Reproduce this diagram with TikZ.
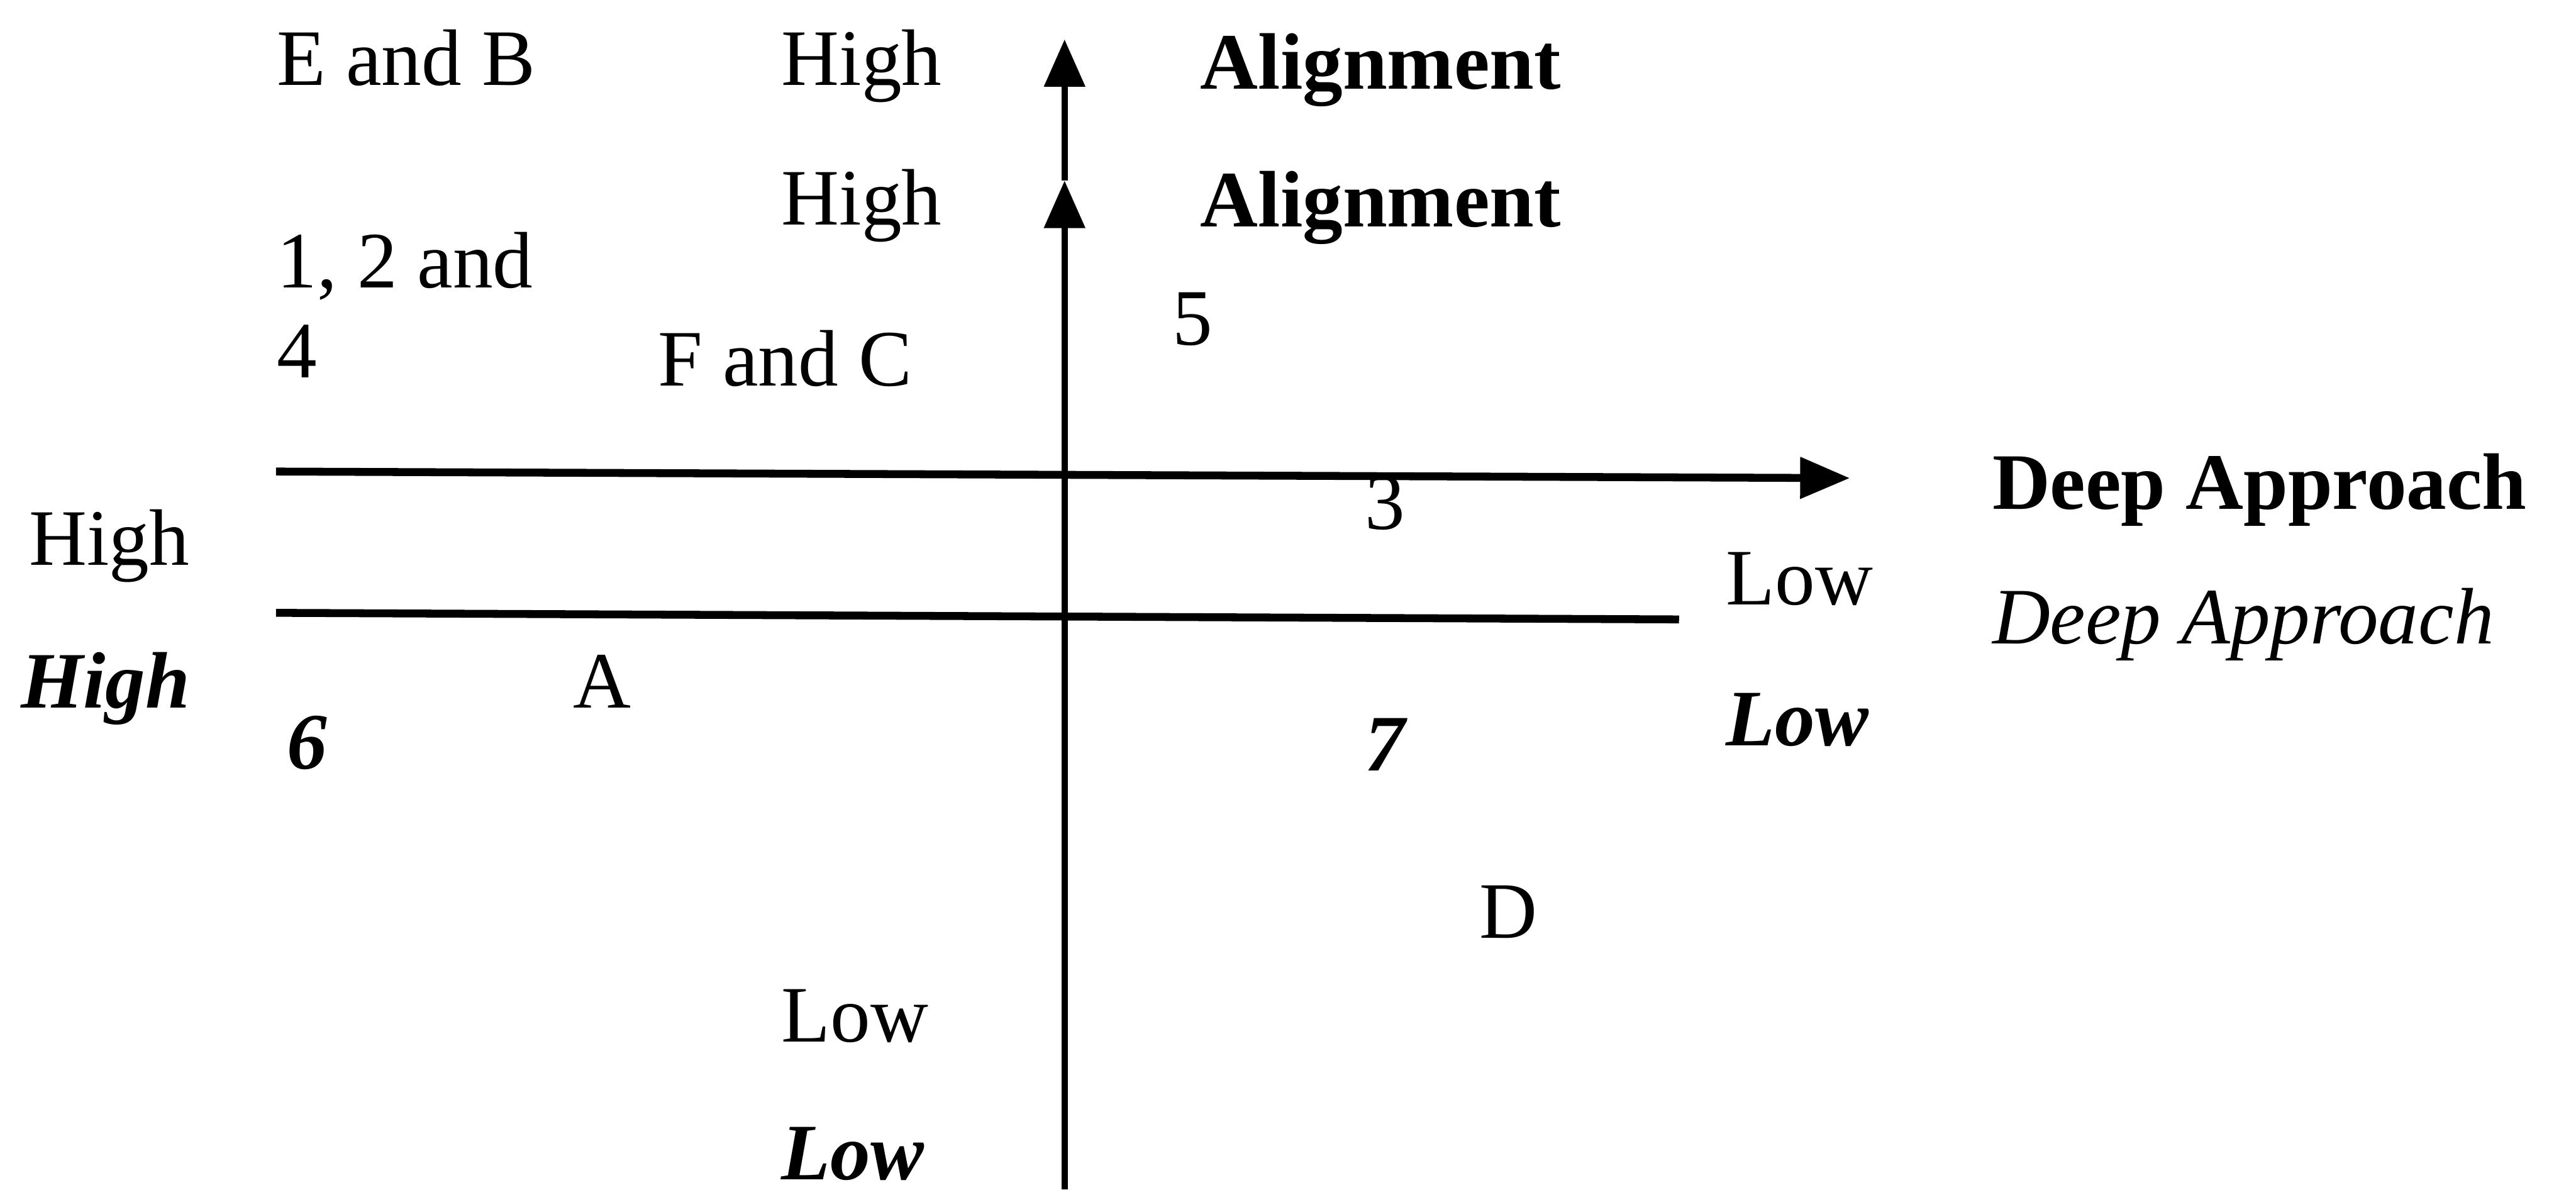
\documentclass[tikz,border=0pt]{standalone}
\usepackage{fontspec}
\setmainfont{Liberation Serif}
\usetikzlibrary{arrows.meta}
\begin{document}
\begin{tikzpicture}[x=0.2709pt,y=-0.2709pt,
  lbl/.style={anchor=base west, inner sep=0pt, font=\fontsize{13.2}{15}\selectfont},
  lblb/.style={lbl, font=\fontsize{13.2}{15}\selectfont\bfseries},
  lbli/.style={lbl, font=\fontsize{13.2}{15}\selectfont\itshape},
  lblbi/.style={lbl, font=\fontsize{13.2}{15}\selectfont\bfseries\itshape},
  axis/.style={line width=1pt},
  haxis/.style={line width=1.3pt},
  vtip/.style={-{Triangle[length=7.8pt,width=6.6pt]}},
  htip/.style={-{Triangle[length=8.2pt,width=6.6pt]}}]
\useasboundingbox (0,0) rectangle (1568,724);
% axes
\coordinate (vbot) at (648,724);
\coordinate (vmid) at (648,110);
\coordinate (vtop) at (648,24);
\coordinate (h1l) at (168,287);
\coordinate (h1r) at (1126,291);
\coordinate (h2l) at (168,373);
\coordinate (h2r) at (1022,377);
\draw[axis,vtip] (vbot) -- (vmid);
\draw[axis,vtip] (vmid) -- (vtop);
\draw[haxis,htip] (h1l) -- (h1r);
\draw[haxis] (h2l) -- (h2r);
% labels
\node[lbl] (eb) at (168,52) {E and B};
\node[lbl] (hi1) at (475,52) {High};
\node[lblb] (al1) at (730,54) {Alignment};
\node[lbl] (hi2) at (475,137) {High};
\node[lblb] (al2) at (730,138) {Alignment};
\node[lbl] (one) at (168,175) {1, 2 and};
\node[lbl] (four) at (168,230) {4};
\node[lbl] (fc) at (400,235) {F and C};
\node[lbl] (five) at (713,210) {5};
\node[lblb] (dab) at (1212,310) {Deep Approach};
\node[lbl] (three) at (830,322) {3};
\node[lbl] (hil) at (17,344) {High};
\node[lbl] (lowr) at (1050,368) {Low};
\node[lbli] (dai) at (1212,392) {Deep Approach};
\node[lblbi] (hilbi) at (12,431) {High};
\node[lbl] (a) at (348,431) {A};
\node[lblbi] (six) at (174,468) {6};
\node[lblbi] (seven) at (830,469) {7};
\node[lblbi] (lowrbi) at (1050,454) {Low};
\node[lbl] (d) at (900,571) {D};
\node[lbl] (lowb) at (475,634) {Low};
\node[lblbi] (lowbbi) at (475,718) {Low};
\end{tikzpicture}
\end{document}
